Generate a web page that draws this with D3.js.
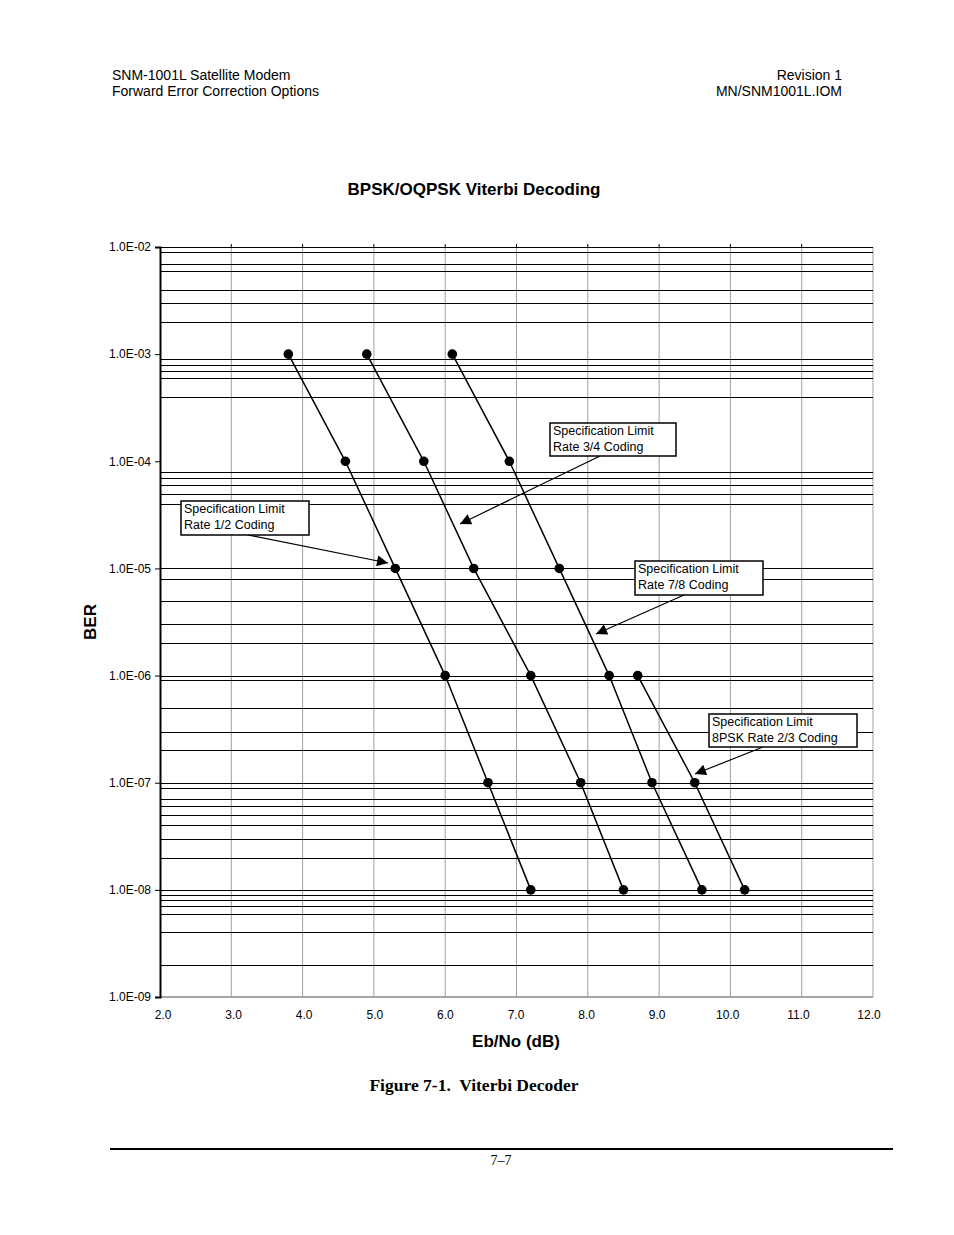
<!DOCTYPE html>
<html>
<head>
<meta charset="utf-8">
<script src="https://cdn.jsdelivr.net/npm/d3@7"></script>
<style>
	body { margin: 0; background: #fff; }
	text { font-family: Arial, "Liberation Sans", sans-serif; fill: #000; }
	.serif { font-family: "Times New Roman", "Liberation Serif", serif; }
</style>
</head>
<body>
<div id="viterbi"></div>
<script>
// BER levels shared by the three Viterbi curves
var berLevels = [1e-3, 1e-4, 1e-5, 1e-6, 1e-7, 1e-8];
// Eb/No (dB)
var rate12 = [3.8, 4.6, 5.3, 6.0, 6.6, 7.2];
var rate34 = [4.9, 5.7, 6.4, 7.2, 7.9, 8.5];
var rate78 = [6.1, 6.9, 7.6, 8.3, 8.9, 9.6];
// 8PSK rate 2/3 only goes from 1e-6 down
var psk23Ber = [1e-6, 1e-7, 1e-8];
var psk23 = [8.7, 9.5, 10.2];

var xTicks = [2, 3, 4, 5, 6, 7, 8, 9, 10, 11, 12];
var yTicks = [1e-2, 1e-3, 1e-4, 1e-5, 1e-6, 1e-7, 1e-8, 1e-9];
var yTickLabels = ["1.0E-02", "1.0E-03", "1.0E-04", "1.0E-05", "1.0E-06", "1.0E-07", "1.0E-08", "1.0E-09"];
// horizontal gridlines as they show up in the picture
var hGrid = [1e-2, 9e-3, 7e-3, 6e-3, 4e-3, 3e-3, 2e-3,
	9e-4, 8e-4, 7e-4, 6e-4, 4e-4,
	8e-5, 7e-5, 6e-5, 5e-5, 4e-5,
	1e-5, 8e-6, 5e-6, 3e-6, 2e-6,
	1e-6, 9e-7, 5e-7, 3e-7, 2e-7,
	1e-7, 9e-8, 7e-8, 6e-8, 5e-8, 4e-8, 3e-8, 2e-8,
	1e-8, 9e-9, 8e-9, 7e-9, 6e-9, 4e-9, 2e-9];

var annLines = [
	["Specification Limit", "Rate 1/2 Coding"],
	["Specification Limit", "Rate 3/4 Coding"],
	["Specification Limit", "Rate 7/8 Coding"],
	["Specification Limit", "8PSK Rate 2/3 Coding"]
];

viterbichart();

function viterbichart() {
	var svg = d3.select("#viterbi")
		.append("svg")
		.attr("width", 954)
		.attr("height", 1235);

	// page header
	svg.append("text").attr("x", 112).attr("y", 80).style("font-size", "14px").text("SNM-1001L Satellite Modem");
	svg.append("text").attr("x", 112).attr("y", 96).style("font-size", "14px").text("Forward Error Correction Options");
	svg.append("text").attr("x", 842).attr("y", 80).style("font-size", "14px").style("text-anchor", "end").text("Revision 1");
	svg.append("text").attr("x", 842).attr("y", 96).style("font-size", "14px").style("text-anchor", "end").text("MN/SNM1001L.IOM");

	var margin = {top: 247, left: 160},
		width = 713,
		height = 750,
		g = svg.append("g").attr("transform", "translate(" + margin.left + "," + margin.top + ")");

	var xScale = d3.scaleLinear().domain([2, 12]).range([0, width]),
		yScale = d3.scaleLog().domain([1e-2, 1e-9]).range([0, height]);

	// vertical grid
	g.selectAll(".vgrid")
		.data(xTicks.slice(1))
		.enter().append("line")
		.attr("x1", function(d) { return xScale(d); })
		.attr("x2", function(d) { return xScale(d); })
		.attr("y1", 0)
		.attr("y2", height)
		.style("stroke", "#a0a0a0")
		.style("stroke-width", 1);

	// small ticks above the top line
	g.selectAll(".toptick")
		.data(xTicks.slice(1, -1))
		.enter().append("line")
		.attr("x1", function(d) { return xScale(d); })
		.attr("x2", function(d) { return xScale(d); })
		.attr("y1", -3)
		.attr("y2", 0)
		.style("stroke", "#000");

	// horizontal grid
	g.selectAll(".hgrid")
		.data(hGrid)
		.enter().append("line")
		.attr("x1", 0)
		.attr("x2", width)
		.attr("y1", function(d) { return Math.round(yScale(d)) + 0.5; })
		.attr("y2", function(d) { return Math.round(yScale(d)) + 0.5; })
		.style("stroke", "#000")
		.style("stroke-width", 1.2);

	// bottom border
	g.append("line")
		.attr("x1", 0).attr("x2", width)
		.attr("y1", height).attr("y2", height)
		.style("stroke", "#888").style("stroke-width", 1.5);

	// y axis
	var yAxis = d3.axisLeft(yScale)
		.tickValues(yTicks)
		.tickSize(5)
		.tickFormat(function(d, i) { return yTickLabels[i]; });
	var ya = g.append("g").attr("class", "y axis").call(yAxis);
	ya.select(".domain").style("stroke-width", 2);
	ya.selectAll("text").style("font-size", "12px").attr("x", -9);

	// x labels
	g.selectAll(".xlabel")
		.data(xTicks)
		.enter().append("text")
		.attr("x", function(d) { return xScale(d) + 3 - (d - 2) * 0.7; })
		.attr("y", height + 22)
		.style("font-size", "12px")
		.style("text-anchor", "middle")
		.text(function(d) { return d3.format(".1f")(d); });

	// curves
	var series = [
		{x: rate12, y: berLevels},
		{x: rate34, y: berLevels},
		{x: rate78, y: berLevels},
		{x: psk23, y: psk23Ber}
	];
	var line = d3.line()
		.x(function(d) { return xScale(d[0]); })
		.y(function(d) { return yScale(d[1]); });

	series.forEach(function(s) {
		var pts = s.x.map(function(v, i) { return [v, s.y[i]]; });
		g.append("path")
			.attr("d", line(pts))
			.style("fill", "none")
			.style("stroke", "#000")
			.style("stroke-width", 1.5);
		g.selectAll(null)
			.data(pts)
			.enter().append("circle")
			.attr("cx", function(d) { return xScale(d[0]); })
			.attr("cy", function(d) { return yScale(d[1]); })
			.attr("r", 4.8)
			.style("fill", "#000");
	});

	// annotations: box (x, y, w, h), arrow start, arrow tip - pixel layout inside plot
	var defs = svg.append("defs");
	defs.append("marker")
		.attr("id", "arrowhead")
		.attr("viewBox", "0 0 10 10")
		.attr("refX", 10).attr("refY", 5)
		.attr("markerWidth", 14).attr("markerHeight", 11)
		.attr("markerUnits", "userSpaceOnUse")
		.attr("orient", "auto")
		.append("path")
		.attr("d", "M0,0 L10,5 L0,10 z")
		.style("fill", "#000");

	var layout = [
		{box: [21, 254, 128, 34], from: [88, 288], to: [228, 316]},
		{box: [390, 176, 126, 33], from: [440, 209], to: [300, 277]},
		{box: [475, 314, 128, 34], from: [524, 348], to: [436, 387]},
		{box: [549, 467, 148, 33], from: [603, 500], to: [535, 527]}
	];

	layout.forEach(function(a, i) {
		g.append("line")
			.attr("x1", a.from[0]).attr("y1", a.from[1])
			.attr("x2", a.to[0]).attr("y2", a.to[1])
			.style("stroke", "#000")
			.style("stroke-width", 1.2)
			.attr("marker-end", "url(#arrowhead)");
		g.append("rect")
			.attr("x", a.box[0]).attr("y", a.box[1])
			.attr("width", a.box[2]).attr("height", a.box[3])
			.style("fill", "#fff")
			.style("stroke", "#000")
			.style("stroke-width", 1.5);
		annLines[i].forEach(function(t, j) {
			g.append("text")
				.attr("x", a.box[0] + 3)
				.attr("y", a.box[1] + 12 + j * 16)
				.style("font-size", "12.5px")
				.text(t);
		});
	});

	// titles
	svg.append("text")
		.attr("x", 474).attr("y", 195)
		.style("font-size", "17px").style("font-weight", "bold")
		.style("text-anchor", "middle")
		.text("BPSK/OQPSK Viterbi Decoding");

	svg.append("text")
		.attr("transform", "translate(96,622) rotate(-90)")
		.style("font-size", "17px").style("font-weight", "bold")
		.style("text-anchor", "middle")
		.text("BER");

	svg.append("text")
		.attr("x", 516).attr("y", 1047)
		.style("font-size", "17px").style("font-weight", "bold")
		.style("text-anchor", "middle")
		.text("Eb/No (dB)");

	svg.append("text")
		.attr("class", "serif")
		.attr("x", 474).attr("y", 1091)
		.style("font-size", "17.5px").style("font-weight", "bold")
		.style("text-anchor", "middle")
		.text("Figure 7-1.\u00a0 Viterbi Decoder");

	// footer
	svg.append("line")
		.attr("x1", 110).attr("x2", 893)
		.attr("y1", 1149).attr("y2", 1149)
		.style("stroke", "#000").style("stroke-width", 2);
	svg.append("text")
		.attr("class", "serif")
		.attr("x", 501).attr("y", 1165)
		.style("font-size", "14px")
		.style("text-anchor", "middle")
		.text("7\u20137");
}
</script>
</body>
</html>
